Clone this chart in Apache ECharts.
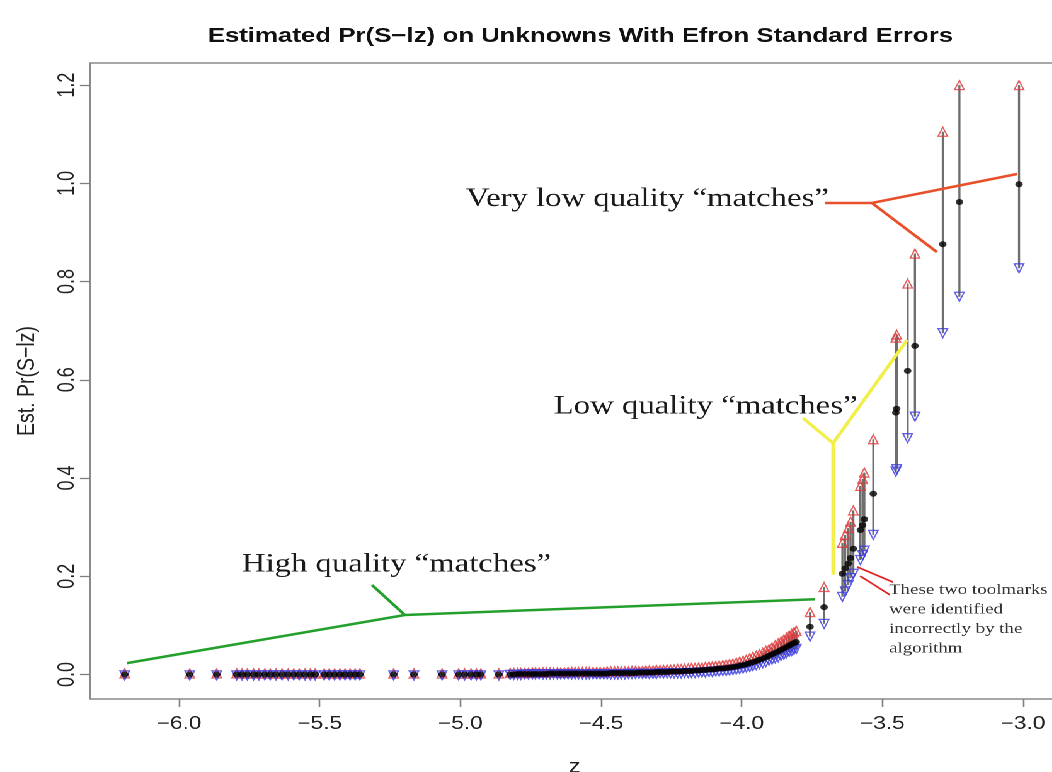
<!DOCTYPE html>
<html><head><meta charset="utf-8">
<script src="https://cdn.jsdelivr.net/npm/echarts@6/dist/echarts.min.js"></script>
<style>
html,body{margin:0;padding:0;background:#fff}
#wrap{width:1052px;height:772px;overflow:hidden;position:relative}
#c{width:835px;height:772px;transform:scaleX(1.26);transform-origin:0 0}
</style>
</head><body><div id="wrap"><div id="c"></div></div>
<script>
const xTicks = [-6.0, -5.5, -5.0, -4.5, -4.0, -3.5, -3.0];
const yTicks = [0, 0.2, 0.4, 0.6, 0.8, 1.0, 1.2];

const z = [
-6.193,-5.962,-5.866,-5.795,-5.776,-5.757,-5.735,-5.716,-5.695,-5.676,-5.655,-5.634,-5.612,-5.592,-5.573,-5.552,-5.533,-5.516,
-5.484,-5.466,-5.447,-5.428,-5.410,-5.392,-5.374,-5.357,-5.237,-5.165,-5.065,-5.006,-4.985,-4.962,-4.943,-4.927,-4.863,
-4.823,-4.810,-4.796,-4.785,-4.771,-4.758,-4.744,-4.733,-4.720,-4.706,-4.694,-4.681,-4.669,-4.655,-4.643,-4.630,-4.617,-4.604,
-4.592,-4.580,-4.566,-4.553,-4.541,-4.528,-4.515,-4.503,-4.490,-4.478,-4.465,-4.452,-4.440,-4.428,-4.415,-4.402,-4.390,-4.377,
-4.365,-4.352,-4.340,-4.328,-4.315,-4.303,-4.290,-4.278,-4.265,-4.253,-4.240,-4.228,-4.215,-4.203,-4.190,-4.178,-4.166,-4.153,
-4.141,-4.129,-4.116,-4.104,-4.092,-4.080,-4.067,-4.055,-4.043,-4.031,-4.019,-4.007,-3.995,-3.983,-3.971,-3.960,-3.948,-3.937,
-3.925,-3.914,-3.903,-3.892,-3.881,-3.870,-3.860,-3.850,-3.840,-3.831,-3.822,-3.814,-3.806,
-3.757,-3.707,-3.642,-3.632,-3.621,-3.613,-3.603,-3.578,-3.570,-3.564,-3.532,-3.452,-3.449,-3.410,-3.384,-3.285,-3.226,-3.014
];
const est = [
0,0,0,0,0,0,0,0,0,0,0,0,0,0,0,0,0,0,
0,0,0,0,0,0,0,0,0,0,0,0,0,0,0,0,0,
0.000,0.000,0.001,0.001,0.001,0.001,0.001,0.001,0.001,0.001,0.001,0.002,0.002,0.002,0.002,0.002,0.002,0.002,
0.002,0.002,0.002,0.002,0.002,0.002,0.002,0.002,0.002,0.002,0.003,0.003,0.003,0.003,0.003,0.003,0.003,0.003,
0.004,0.004,0.004,0.004,0.004,0.005,0.005,0.005,0.005,0.006,0.006,0.006,0.006,0.007,0.007,0.007,0.008,0.008,
0.009,0.009,0.010,0.010,0.011,0.012,0.012,0.013,0.014,0.015,0.016,0.018,0.019,0.021,0.023,0.025,0.027,0.030,
0.032,0.035,0.038,0.041,0.044,0.047,0.050,0.053,0.056,0.059,0.062,0.064,0.066,
0.097,0.137,0.205,0.216,0.226,0.237,0.256,0.294,0.304,0.316,0.368,0.533,0.541,0.618,0.669,0.876,0.962,0.998
];
const upper = [
0.002,0.002,0.002,0.002,0.002,0.002,0.002,0.002,0.002,0.002,0.002,0.002,0.002,0.002,0.002,0.002,0.002,0.002,
0.002,0.002,0.002,0.002,0.002,0.002,0.002,0.002,0.002,0.002,0.002,0.002,0.002,0.002,0.002,0.002,0.002,
0.003,0.003,0.003,0.003,0.003,0.003,0.004,0.004,0.004,0.004,0.004,0.004,0.004,0.004,0.004,0.004,0.005,0.005,
0.005,0.005,0.005,0.005,0.005,0.005,0.005,0.005,0.005,0.006,0.006,0.006,0.006,0.006,0.006,0.006,0.007,0.007,
0.007,0.007,0.008,0.008,0.008,0.009,0.009,0.009,0.010,0.010,0.010,0.011,0.011,0.012,0.012,0.013,0.013,0.014,
0.014,0.015,0.016,0.016,0.017,0.018,0.019,0.020,0.021,0.022,0.024,0.026,0.028,0.030,0.033,0.036,0.038,0.041,
0.044,0.048,0.051,0.055,0.059,0.063,0.067,0.071,0.075,0.079,0.083,0.086,0.089,
0.127,0.178,0.268,0.284,0.298,0.311,0.334,0.384,0.398,0.411,0.479,0.686,0.692,0.796,0.857,1.105,1.200,1.200
];
const lower = [
-0.002,-0.002,-0.002,-0.002,-0.002,-0.002,-0.002,-0.002,-0.002,-0.002,-0.002,-0.002,-0.002,-0.002,-0.002,-0.002,-0.002,-0.002,
-0.002,-0.002,-0.002,-0.002,-0.002,-0.002,-0.002,-0.002,-0.002,-0.002,-0.002,-0.002,-0.002,-0.002,-0.002,-0.002,-0.002,
-0.001,-0.001,-0.001,-0.001,0.000,0.000,0.000,0.000,0.000,0.000,0.000,0.000,0.000,0.000,0.000,0.000,0.000,0.000,
0.000,0.000,0.000,0.000,0.000,0.000,0.000,0.000,0.000,0.000,0.000,0.000,0.000,0.000,0.000,0.001,0.001,0.001,
0.001,0.001,0.001,0.001,0.001,0.001,0.002,0.002,0.002,0.002,0.002,0.002,0.002,0.003,0.003,0.003,0.003,0.004,
0.004,0.004,0.005,0.005,0.006,0.006,0.007,0.007,0.008,0.009,0.010,0.011,0.012,0.014,0.015,0.017,0.019,0.021,
0.023,0.025,0.028,0.030,0.033,0.035,0.038,0.040,0.043,0.046,0.048,0.050,0.052,
0.077,0.103,0.158,0.169,0.182,0.196,0.205,0.233,0.243,0.252,0.284,0.413,0.418,0.481,0.525,0.695,0.769,0.827
];

// annotation geometry, in data units (z, Pr)
const greenPath = [[-6.185, 0.023], [-5.197, 0.121], [-3.739, 0.153]];
const greenStub = [[-5.314, 0.182], [-5.197, 0.121]];
const yellowPath = [[-3.782, 0.522], [-3.675, 0.471], [-3.412, 0.681]];
const yellowStub = [[-3.675, 0.471], [-3.675, 0.203]];
const redPath = [[-3.704, 0.960], [-3.537, 0.960], [-3.021, 1.019]];
const redStub = [[-3.537, 0.960], [-3.306, 0.860]];
const arrow1 = [[-3.462, 0.188], [-3.590, 0.219]];
const arrow2 = [[-3.473, 0.162], [-3.579, 0.2005]];

const labelTexts = ['Very low quality \u201cmatches\u201d', 'Low quality \u201cmatches\u201d', 'High quality \u201cmatches\u201d'];
const labelPos = [[-4.335, 0.968], [-4.128, 0.545], [-5.227, 0.224]];
const noteText = 'These two toolmarks\nwere identified\nincorrectly by the\nalgorithm';
const notePos = [-3.476, 0.192];

const chart = echarts.init(document.getElementById('c'), null, {renderer: 'canvas', devicePixelRatio: 2, width: 835, height: 772});
const fmt = v => v.toFixed(1).replace('-', '\u2212');
const sans = 'Liberation Sans, Arial, Helvetica, sans-serif';
const serif = 'Liberation Serif, Times New Roman, serif';

const barData = z.map((v, i) => [v, lower[i], upper[i]]);
const upData = z.map((v, i) => [v, upper[i]]);
const loData = z.map((v, i) => [v, lower[i]]);
const estData = z.map((v, i) => [v, est[i]]);

function seg(points, color, width, arrow) {
  return {
    type: 'lines', coordinateSystem: 'cartesian2d', polyline: true, silent: true, z: 20,
    symbol: arrow ? ['none', 'arrow'] : ['none', 'none'], symbolSize: arrow ? 9 : 0,
    lineStyle: {color: color, width: width, opacity: 1},
    data: [{coords: points}]
  };
}

chart.setOption({
  animation: false,
  backgroundColor: '#fff',
  title: {
    text: 'Estimated Pr(S\u2212lz) on Unknowns With Efron Standard Errors',
    left: 455.6, top: 21, textAlign: 'center',
    textStyle: {fontFamily: sans, fontWeight: 'bold', fontSize: 20.5, color: '#111'}
  },
  grid: {left: 71.43, top: 63, width: 769.05, height: 636, containLabel: false, outerBoundsMode: 'none',
         show: true, borderColor: '#8a8a8a', borderWidth: 1.4, backgroundColor: 'transparent'},
  xAxis: {
    type: 'value', min: -6.3164, max: -2.872,
    name: 'z', nameLocation: 'middle', nameGap: 59,
    nameTextStyle: {fontFamily: sans, fontSize: 19, color: '#222'},
    axisLine: {show: false, onZero: false}, splitLine: {show: false},
    axisTick: {show: true, customValues: xTicks, length: 8, lineStyle: {color: '#808080', width: 1.3}},
    axisLabel: {customValues: xTicks, formatter: fmt, fontFamily: sans, fontSize: 18, color: '#222', margin: 16}
  },
  yAxis: {
    type: 'value', min: -0.05, max: 1.245,
    name: 'Est. Pr(S\u2212lz)', nameLocation: 'middle', nameGap: 40,
    nameTextStyle: {fontFamily: sans, fontSize: 19.5, color: '#222'},
    axisLine: {show: false, onZero: false}, splitLine: {show: false},
    axisTick: {show: true, customValues: yTicks, length: 8, lineStyle: {color: '#808080', width: 1.3}},
    axisLabel: {customValues: yTicks, formatter: v => v.toFixed(1), rotate: 90, fontFamily: sans, fontSize: 18, color: '#222', margin: 9}
  },
  series: [
    {
      type: 'custom', silent: true, z: 2,
      data: barData,
      encode: {x: 0, y: [1, 2]},
      renderItem: function (params, api) {
        const p1 = api.coord([api.value(0), api.value(1)]);
        const p2 = api.coord([api.value(0), api.value(2)]);
        return {type: 'line', shape: {x1: p1[0], y1: p1[1], x2: p2[0], y2: p2[1]}, style: {stroke: '#6f6f6f', lineWidth: 1.7}};
      }
    },
    {
      type: 'scatter', silent: true, z: 3, data: upData, symbol: 'triangle', symbolSize: [7.5, 9],
      itemStyle: {color: 'rgba(255,255,255,0)', borderColor: '#e0393b', borderWidth: 1.2}
    },
    {
      type: 'scatter', silent: true, z: 3, data: loData, symbol: 'triangle', symbolRotate: 180, symbolSize: [7.5, 9],
      itemStyle: {color: 'rgba(255,255,255,0)', borderColor: '#3b3be0', borderWidth: 1.2}
    },
    {
      type: 'scatter', silent: true, z: 4, data: estData, symbol: 'circle', symbolSize: 6,
      itemStyle: {color: '#000'}
    },
    seg(greenPath, '#23a02b', 2.5, false),
    seg(greenStub, '#23a02b', 2.5, false),
    seg(yellowPath, '#f2ee4a', 2.8, false),
    seg(yellowStub, '#f2ee4a', 2.8, false),
    seg(redPath, '#e8502a', 2.5, false),
    seg(redStub, '#e8502a', 2.5, false),
    seg(arrow1, '#e02222', 1.6, true),
    seg(arrow2, '#e02222', 1.6, true),
    {
      type: 'custom', silent: true, z: 30,
      data: labelPos,
      encode: {x: 0, y: 1},
      renderItem: function (params, api) {
        const p = api.coord([api.value(0), api.value(1)]);
        return {type: 'text', x: p[0], y: p[1], style: {text: labelTexts[params.dataIndex], font: '26px ' + serif, fill: '#1a1a1a', align: 'center', verticalAlign: 'middle'}};
      }
    },
    {
      type: 'custom', silent: true, z: 30,
      data: [notePos],
      encode: {x: 0, y: 1},
      renderItem: function (params, api) {
        const p = api.coord([api.value(0), api.value(1)]);
        return {type: 'text', x: p[0], y: p[1], style: {text: noteText, font: '15px ' + serif, lineHeight: 19.5, fill: '#333', align: 'left', verticalAlign: 'top'}};
      }
    }
  ]
});
</script>
</body></html>
